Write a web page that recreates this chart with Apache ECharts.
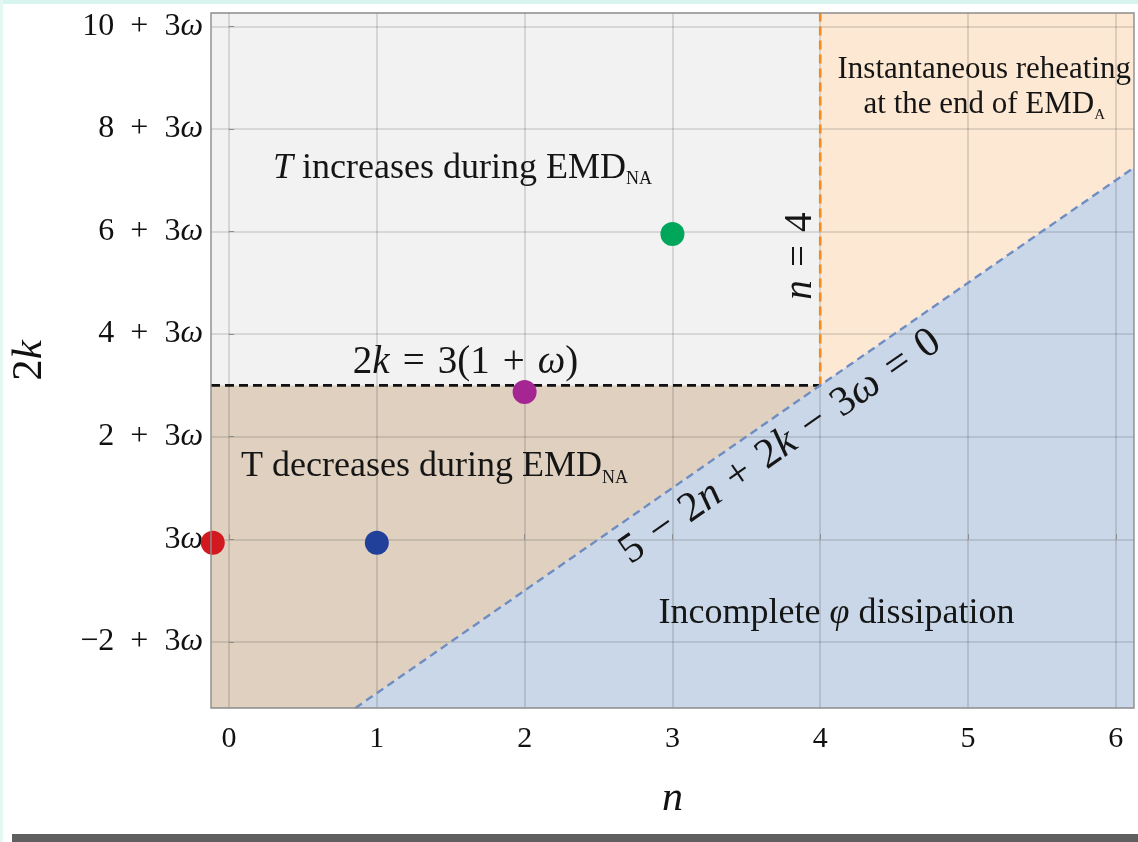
<!DOCTYPE html>
<html>
<head>
<meta charset="utf-8">
<title>Reheating regimes in the (n, 2k) plane</title>
<script src="https://cdn.jsdelivr.net/npm/echarts@6/dist/echarts.min.js"></script>
<style>
  html, body { margin: 0; padding: 0; background: #fff; }
  #frame { position: relative; width: 1138px; height: 842px; overflow: hidden; background: #fff; }
  #chart { position: absolute; left: 0; top: 0; width: 1138px; height: 842px; }
  #edgeTop { position: absolute; left: 0; top: 0; width: 1138px; height: 4px; background: #d8f4ee; }
  #edgeLeft { position: absolute; left: 0; top: 0; width: 3px; height: 842px; background: #e4f7f3; }
  #bar { position: absolute; left: 12px; top: 834px; width: 1126px; height: 8px; background: #5f5f5f; }
</style>
</head>
<body>
<div id="frame">
  <div id="chart"></div>
  <div id="edgeTop"></div>
  <div id="edgeLeft"></div>
  <div id="bar"></div>
</div>
<script>
// ---- axis window: n horizontally, 2k - 3ω vertically ----
const nRange = [-0.122, 6.123];
const yRange = [-3.29, 10.26];

// ---- tick values and their labels ----
const xTicks = [0, 1, 2, 3, 4, 5, 6];
const xTickLabels = ['0', '1', '2', '3', '4', '5', '6'];
const yTicks = [-2, 0, 2, 4, 6, 8, 10];
const yTickLabels = ['−2 + 3ω', '3ω', '2 + 3ω', '4 + 3ω', '6 + 3ω', '8 + 3ω', '10 + 3ω'];

// ---- boundaries ----
const thresholdLevel = 3;      // 2k = 3(1 + ω)  ->  2k - 3ω = 3
const nCut = 4;                // n = 4
const lineSlope = 2;           // 5 - 2n + 2k - 3ω = 0  ->  2k - 3ω = 2n - 5
const lineIntercept = -5;

// ---- marked models ----
const pointN = [-0.11, 1, 2, 3];
const pointY = [-0.07, -0.07, 2.87, 5.95];

// ---- styling ----
const pointColors = ['#d1191f', '#21409a', '#a52592', '#00a65a'];
const regionFill = { cool: '#f2f2f2', warm: '#dfd0bf', instant: '#fde8d4', incomplete: '#cad7e8' };
const serif = "'Liberation Serif', 'DejaVu Serif', serif";
const SP = '\u2004';   // three-per-em space around relations and operators

// corner points of the regions, in (n, 2k - 3ω) units
const lineAt = n => lineSlope * n + lineIntercept;
const lineFoot = (yRange[0] - lineIntercept) / lineSlope;
const regions = [
  { key: 'cool', pts: [[nRange[0], thresholdLevel], [nRange[0], yRange[1]], [nCut, yRange[1]], [nCut, thresholdLevel]] },
  { key: 'warm', pts: [[nRange[0], yRange[0]], [nRange[0], thresholdLevel], [nCut, thresholdLevel], [lineFoot, yRange[0]]] },
  { key: 'instant', pts: [[nCut, thresholdLevel], [nCut, yRange[1]], [nRange[1], yRange[1]], [nRange[1], lineAt(nRange[1])]] },
  { key: 'incomplete', pts: [[lineFoot, yRange[0]], [nRange[1], lineAt(nRange[1])], [nRange[1], yRange[0]]] }
];

const spaced = parts => parts.join(SP);

// text placed in data units
const notes = [
  { at: [1.58, 7.23], text: '{it|T} increases during EMD{sub|NA}', size: 36 },
  { at: [1.39, 1.41], text: 'T decreases during EMD{sub|NA}', size: 36 },
  { at: [5.11, 8.81], text: 'Instantaneous reheating\nat the end of EMD{sub2|A}', size: 31 },
  { at: [4.11, -1.45], text: 'Incomplete {it|φ} dissipation', size: 36 },
  { at: [1.60, 3.44], text: spaced(['2{it|k}', '=', '3(1', '+', '{it|ω})']), size: 39 },
  { at: [3.87, 5.52], text: spaced(['{it|n}', '=', '4']), size: 39, rotate: 90 },
  { at: [3.73, 1.80], text: spaced(['5', '−', '2{it|n}', '+', '2{it|k}', '−', '3{it|ω}', '=', '0']), size: 42, rotate: 34.8 }
];

const mathLabel = s => s.replace(/ /g, '\u2002').replace(/ω/g, '{w|ω}');

const chart = echarts.init(document.getElementById('chart'), null, { renderer: 'canvas' });

chart.setOption({
  backgroundColor: 'transparent',
  animation: false,
  textStyle: { fontFamily: serif, color: '#111' },
  grid: {
    left: 211, top: 13, width: 923, height: 695,
    show: true, z: 10,
    backgroundColor: 'transparent',
    borderColor: '#8c8c8c', borderWidth: 1.4,
    outerBoundsMode: 'none'
  },
  xAxis: {
    type: 'value', min: nRange[0], max: nRange[1], splitNumber: 6, z: 1,
    name: 'n', nameLocation: 'middle', nameGap: 70,
    nameTextStyle: { fontFamily: serif, fontStyle: 'italic', fontSize: 42, color: '#111' },
    axisLine: { show: false },
    axisTick: { show: true, inside: true, length: 5, customValues: xTicks, lineStyle: { color: '#8c8c8c', width: 1 } },
    axisLabel: {
      customValues: xTicks, margin: 16, fontSize: 30, fontFamily: serif, color: '#111',
      formatter: v => xTickLabels[xTicks.indexOf(v)]
    },
    splitLine: { show: true, lineStyle: { color: 'rgba(60,60,60,0.2)', width: 1.6 } }
  },
  yAxis: {
    type: 'value', min: yRange[0], max: yRange[1], splitNumber: 7, z: 1,
    name: '{r|2}{it|k}', nameLocation: 'middle', nameGap: 160, nameRotate: 90,
    nameTextStyle: {
      fontFamily: serif, fontSize: 43, color: '#111',
      rich: { r: { fontFamily: serif, fontSize: 43 }, it: { fontFamily: serif, fontStyle: 'italic', fontSize: 43 } }
    },
    axisLine: { show: false },
    axisTick: { show: true, inside: true, length: 5, customValues: yTicks, lineStyle: { color: '#8c8c8c', width: 1 } },
    axisLabel: {
      customValues: yTicks, margin: 8, fontFamily: serif, fontSize: 32, color: '#111',
      formatter: v => mathLabel(yTickLabels[yTicks.indexOf(v)]),
      rich: { w: { fontFamily: serif, fontStyle: 'italic', fontSize: 32, color: '#111' } }
    },
    splitLine: { show: true, lineStyle: { color: 'rgba(60,60,60,0.2)', width: 1.6 } }
  },
  series: [
    {
      // shaded regimes
      type: 'custom', z: 0, silent: true, clip: true,
      data: regions.map((r, i) => [i, 0]),
      renderItem: (params, api) => {
        const r = regions[params.dataIndex];
        return {
          type: 'polygon',
          shape: { points: r.pts.map(p => api.coord(p)) },
          style: { fill: regionFill[r.key], stroke: null }
        };
      }
    },
    {
      // 2k = 3(1 + ω)
      type: 'line', z: 5, silent: true, showSymbol: false, symbol: 'none',
      data: [[nRange[0], thresholdLevel], [nCut, thresholdLevel]],
      lineStyle: { color: '#111', width: 2.6, type: [9, 5] }
    },
    {
      // n = 4
      type: 'line', z: 5, silent: true, showSymbol: false, symbol: 'none',
      data: [[nCut, thresholdLevel], [nCut, yRange[1]]],
      lineStyle: { color: '#f28a1c', width: 2.6, type: [9, 5] }
    },
    {
      // 5 - 2n + 2k - 3ω = 0
      type: 'line', z: 5, silent: true, showSymbol: false, symbol: 'none',
      data: [[lineFoot, yRange[0]], [nRange[1], lineAt(nRange[1])]],
      lineStyle: { color: '#6f8dc0', width: 2.4, type: [8, 5] }
    },
    {
      type: 'scatter', z: 7, clip: false, symbolSize: 24,
      itemStyle: { opacity: 1 },
      data: pointN.map((n, i) => ({ value: [n, pointY[i]], itemStyle: { color: pointColors[i], opacity: 1 } }))
    },
    {
      // annotations
      type: 'scatter', z: 8, silent: true, clip: false, symbolSize: 1,
      itemStyle: { color: 'rgba(0,0,0,0)', opacity: 1 },
      data: notes.map(t => ({
        value: t.at,
        label: {
          show: true, position: 'inside', formatter: t.text, rotate: t.rotate || 0,
          fontFamily: serif, fontSize: t.size, color: '#151515', opacity: 1, lineHeight: t.size + 4, align: 'center',
          textBorderWidth: 0,
          rich: {
            it: { fontFamily: serif, fontStyle: 'italic', fontSize: t.size, color: '#151515' },
            sub: { fontFamily: serif, fontSize: 18, color: '#151515', verticalAlign: 'bottom', lineHeight: 18 },
            sub2: { fontFamily: serif, fontSize: 15, color: '#151515', verticalAlign: 'bottom', lineHeight: 15 }
          }
        }
      }))
    }
  ]
});
</script>
</body>
</html>
